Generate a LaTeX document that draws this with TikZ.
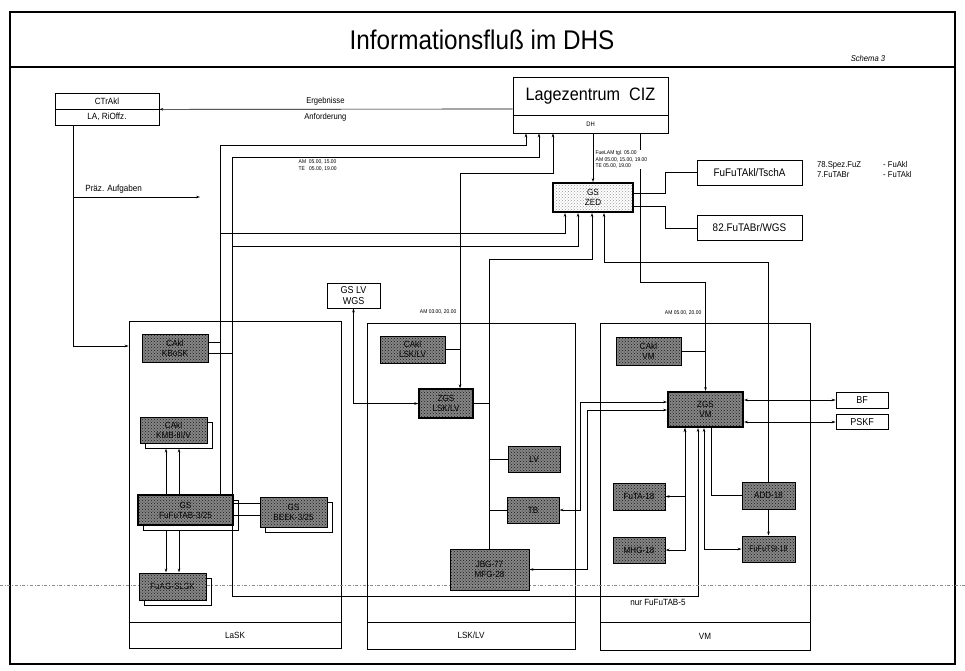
\documentclass[tikz,border=0pt]{standalone}
\usepackage{fontspec}
\setmainfont{Liberation Sans}[FakeStretch=0.9]
\usetikzlibrary{arrows.meta,patterns,shadows}
\newcommand{\fsz}[2]{\fontsize{#1}{#2}\selectfont}
\tikzset{
  sz/.style 2 args={minimum width=#1pt, minimum height=#2pt},
  box/.style={draw, line width=0.7pt, fill=white, inner sep=1pt, align=center, font=\fsz{10}{11}},
  mask/.style={draw, line width=1pt, preaction={fill=black!48}, pattern=crosshatch dots, pattern color=black!90, inner sep=1pt, align=center, font=\fsz{9}{10}},
  heavy/.style={line width=2pt},
  dup/.style={general shadow={draw, line width=0.8pt, fill=white, shadow xshift=5pt, shadow yshift=-5pt}},
  col/.style={draw, line width=0.7pt},
  ln/.style={line width=0.65pt},
  tiny/.style={font=\fsz{5.5}{6.5}, align=left, inner sep=0.5pt},
}
\begin{document}
\begin{tikzpicture}[x=1pt, y=-1pt, >={Stealth[length=4pt,width=2.6pt]}]
\useasboundingbox (0,0) rectangle (965,670);
\draw[line width=1.2pt] (10,12) rectangle (955,664);
\draw[line width=1.6pt] (10,67) -- (955,67);
\node (title) at (482,40) {\fsz{27}{30}Informationsfluß im DHS};
\node (schema) at (868,58) {\fsz{8.5}{9}\itshape Schema 3};

\node[col, sz={212}{327}] (lask) at (235,484.5) {};
\node[col, sz={208}{326}] (lsklv) at (471,486) {};
\node[col, sz={210}{327}] (vm) at (705,486.5) {};
\foreach \c in {lask,lsklv,vm} \draw[col] (\c.west |- 0,622) -- (\c.east |- 0,622);
\node[font=\fsz{9}{10}] (laskl) at (235,635) {LaSK};
\node[font=\fsz{9}{10}] (lsklvl) at (471,635) {LSK/LV};
\node[font=\fsz{9}{10}] (vml) at (705,636) {VM};

\node[box, sz={104}{16}, font=\fsz{9}{10}] (ctra) at (107,101) {CTrAkl};
\node[box, sz={104}{16}, font=\fsz{9}{10}] (ctrb) at (107,117) {LA, RiOffz.};
\node[box, sz={155}{38}, font=\fsz{18}{19}] (lz) at (590.5,96) {Lagezentrum\ \ CIZ};
\node[box, sz={155}{18}, font=\fsz{6.5}{7}] (dh) at (590.5,124) {DH};
\node[mask, heavy, sz={80}{29}, preaction={fill=white}, pattern color=black!40, font=\fsz{9}{10}] (zed) at (593,197.5) {GS\\ZED};
\node[box, sz={105}{25}, font=\fsz{11}{12}] (tscha) at (749.5,172.5) {FuFuTAkl/TschA};
\node[box, sz={105}{25}, font=\fsz{11}{12}] (wgs) at (749.5,228) {82.FuTABr/WGS};
\node[box, sz={53}{25}] (gslv) at (353.5,295.5) {GS LV\\WGS};

\node[mask, sz={66}{28}] (kbosk) at (175,348) {CAkl\\KBoSK};
\node[dup, mask, sz={67}{26}] (kmb) at (173.5,430) {CAkl\\KMB-III/V};
\node[dup, mask, heavy, sz={95}{30}] (fufutab) at (185.5,510) {GS\\FuFuTAB-3/25};
\node[dup, mask, sz={67}{30}] (beek) at (293.5,512) {GS\\BEEK-3/25};
\node[dup, mask, sz={67}{27}] (fuag) at (172.5,586.5) {FuAG-SLSK};

\node[mask, sz={65}{27}] (cakllv) at (412.5,349.5) {CAkl\\LSK/LV};
\node[mask, sz={54}{29}, line width=1.4pt] (zgslv) at (446,403.5) {ZGS\\LSK/LV};
\node[mask, sz={52}{26}] (lv) at (534,459) {LV};
\node[mask, sz={52}{26}] (tb) at (533,510) {TB};
\node[mask, sz={79}{41}] (jbg) at (489.5,569.5) {JBG-77\\MFG-28};

\node[mask, sz={65}{28}] (caklvm) at (648.5,351) {CAkl\\VM};
\node[mask, heavy, sz={75}{35}] (zgsvm) at (705.5,409.5) {ZGS\\VM};
\node[mask, sz={52}{27}] (futa) at (639,496.5) {FuTA-18};
\node[mask, sz={52}{26}] (mhg) at (639,550) {MHG-18};
\node[mask, sz={53}{27}] (add) at (768.5,495.5) {ADD-18};
\node[mask, sz={53}{26}, font=\fsz{8}{9}] (fufutst) at (768.5,549) {FuFuTSt-18};
\node[box, sz={52}{16}] (bf) at (862,400) {BF};
\node[box, sz={52}{15}] (pskf) at (862,422) {PSKF};

\coordinate (praez) at (200,197);
\draw[ln,->] ([yshift=-13pt]lz.west) -- node[pos=0.53, above, font=\fsz{8.5}{9}] {Ergebnisse} node[pos=0.53, below, font=\fsz{8.5}{9}] {Anforderung} (ctra.south east);
\draw[ln,->] (ctrb.south -| 73,0) |- node[pos=0.66, above, font=\fsz{9}{10}] {Präz. Aufgaben} (praez);
\draw[ln,->] (ctrb.south -| 73,0) |- (lask.west |- 0,346);

\draw[ln,->] (fufutab.north -| 220,0) -- (220,145) -| (dh.south -| 526,0);
\draw[ln,->] (fufutab.north -| 232,0) -- (232,157) -| (dh.south -| 539,0);
\draw[ln,->] (fufutab.north -| 220,0) -- (220,233) -| (zed.south -| 565,0);
\draw[ln,->] (fufutab.north -| 232,0) -- (232,246) -| (zed.south -| 578,0);
\draw[ln] (kbosk.east |- 0,342) -- ++(12,0);
\draw[ln] (kbosk.east |- 0,353) -- ++(24,0);
\foreach \x in {166,179} {
  \draw[ln,->, shorten >=5pt] (fufutab.north -| \x,0) -- (kmb.south -| \x,0);
  \draw[ln,->, shorten <=5pt] (fufutab.south -| \x,0) -- (fuag.north -| \x,0);
}
\draw[ln] (fufutab.east |- 0,503) -- (beek.west |- 0,503);
\draw[ln] (fufutab.east |- 0,515) -- (beek.west |- 0,515);
\draw[ln,->] (fufutab.south -| 232,0) -- (232,596) -| node[pos=0.457, below, font=\fsz{9}{10}] {nur FuFuTAB-5} (zgsvm.south -| 698,0);

\draw[ln,<->] (dh.south -| 553,0) |- (460,173) -- (zgslv.north -| 460,0);
\draw[ln] (cakllv.east) -- (cakllv.east -| 460,0);
\draw[ln,->] (dh.south -| 593,0) -- (zed.north);
\draw[ln,->] (dh.south -| 640,0) -- (640,282) -| (zgsvm.north);
\draw[ln] (caklvm.east) -- (caklvm.east -| zgsvm.north);
\draw[ln] (zed.east |- 0,193) -- (665,193) |- (tscha.west);
\draw[ln] (zed.east |- 0,206) -- (665,206) |- (wgs.west);
\draw[ln,<-] (zed.south -| 604,0) -- (604,262) -| (add.north);
\draw[ln,<-] (zed.south -| 592,0) -- (592,259) -| (jbg.north);
\draw[ln] (zgslv.east) -- (zgslv.east -| jbg.north);
\draw[ln] (lv.west) -- (lv.west -| jbg.north);
\draw[ln] (tb.west) -- (tb.west -| jbg.north);
\draw[ln,<->] (gslv.south) |- (zgslv.west);

\draw[ln,<->] (zgsvm.west |- 0,402) -| (580,510) -- (tb.east);
\draw[ln,<->] (zgsvm.west |- 0,410) -| (587,569.5) -- (jbg.east);
\draw[ln,<->] (zgsvm.south -| 685,0) |- (futa.east);
\draw[ln,<->] (zgsvm.south -| 685,0) |- (mhg.east);
\draw[ln,<->] (zgsvm.south -| 704,0) |- (fufutst.west);
\draw[ln] (zgsvm.south -| 711,0) |- (add.west);
\draw[ln,->] (add.south) -- (fufutst.north);
\draw[ln,<->] (bf.west) -- (bf.west -| zgsvm.east);
\draw[ln,<->] (pskf.west) -- (pskf.west -| zgsvm.east);

\node[tiny, anchor=north west] (amte) at (298,159) {AM\ \ 05.00, 15.00\\TE\ \ \ 05.00, 19.00};
\node[tiny, anchor=north west, fill=white] (fue) at (595,150) {FueLAM tgl. 05.00\\AM 05.00, 15.00, 19.00\\TE 05.00, 19.00};
\node[tiny, anchor=east] (amlv) at (457,312) {AM 03.00, 20.00};
\node[tiny, anchor=east] (amvm) at (702,313) {AM 05.00, 20.00};
\node[anchor=west, inner sep=0pt, font=\fsz{8.5}{10}] (spez) at (817,170) {\begin{tabular}{@{}p{66pt}@{}l@{}}78.Spez.FuZ & - FuAkl\\7.FuTABr & - FuTAkl\end{tabular}};

\draw[black!45, dash dot, line width=0.8pt] (0,585) -- (965,585);
\end{tikzpicture}
\end{document}
